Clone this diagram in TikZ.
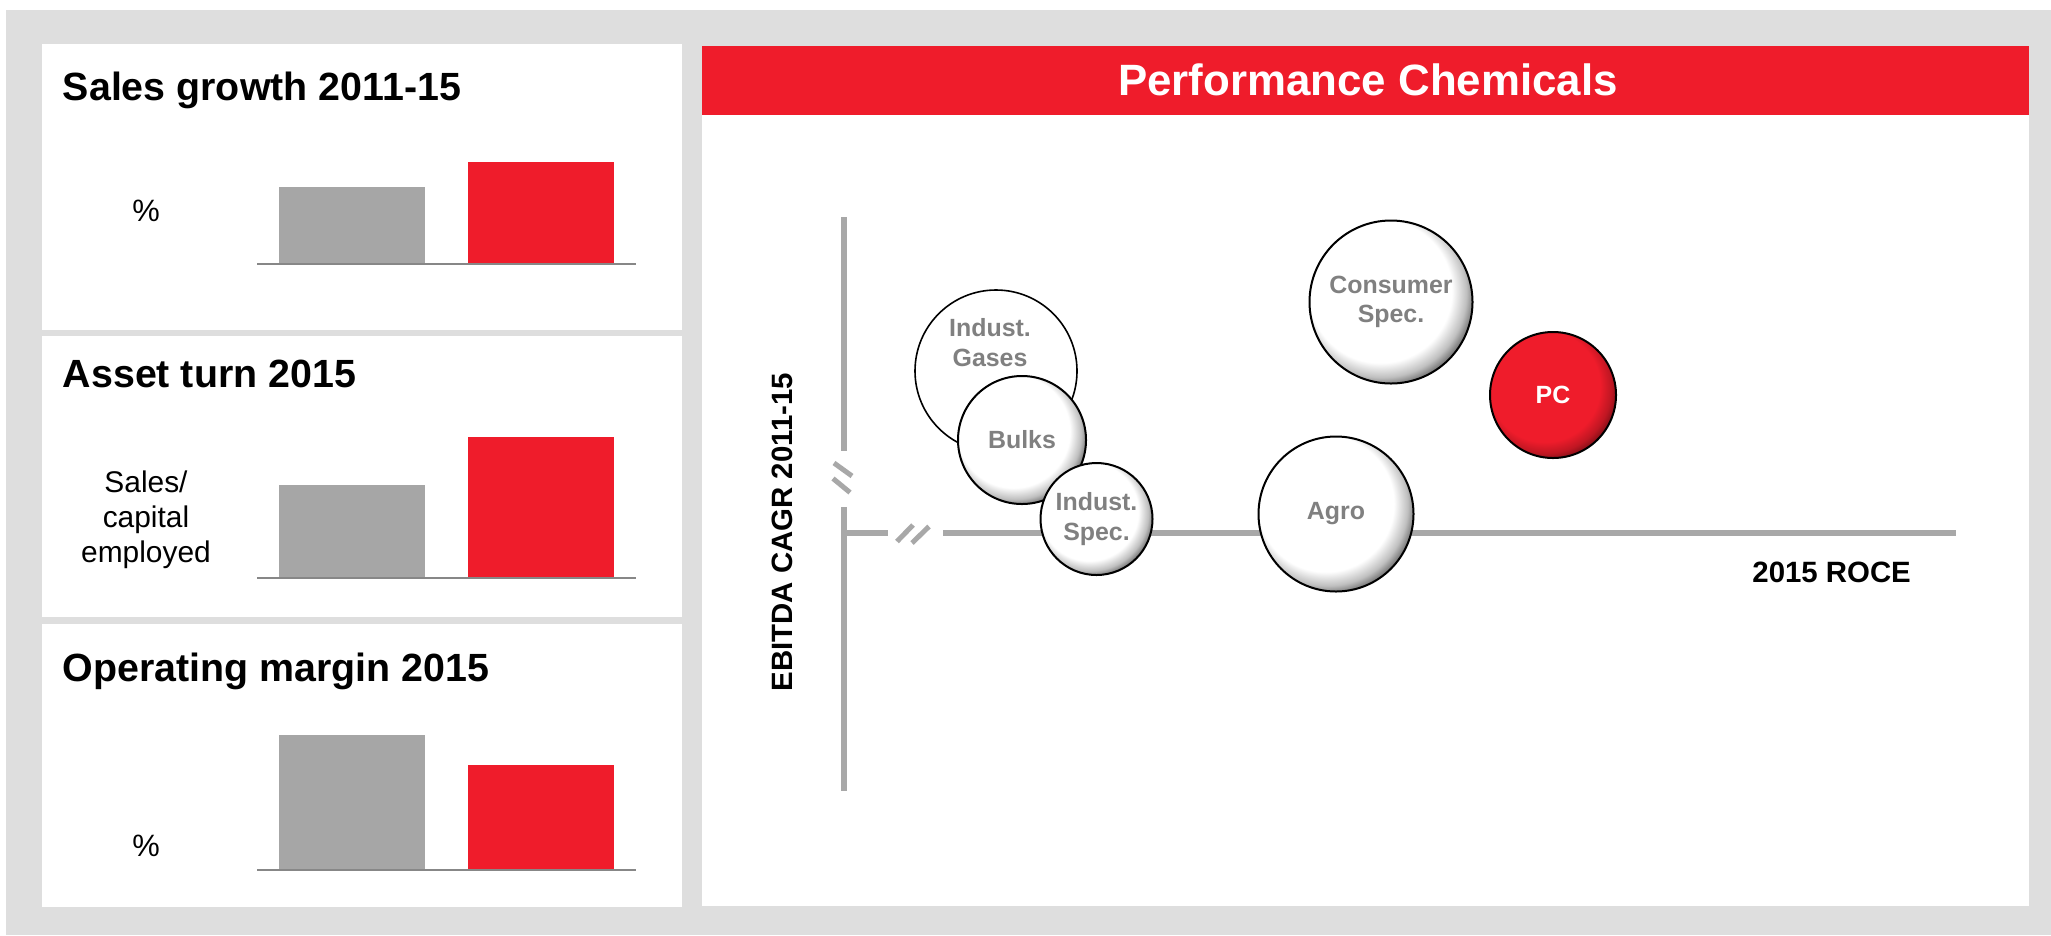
\documentclass[tikz,border=0pt]{standalone}
\usepackage{fontspec}
\setmainfont{Liberation Sans}
\definecolor{bg}{HTML}{DEDEDE}
\definecolor{pcred}{HTML}{EF1C2B}
\definecolor{bargray}{HTML}{A6A6A6}
\definecolor{basegray}{HTML}{878787}
\definecolor{axisgray}{HTML}{A8A8A8}
\definecolor{bubtext}{HTML}{808080}
\pgfdeclareradialshading{bubble}{\pgfpoint{-6bp}{6bp}}{color(0bp)=(white); color(22bp)=(white); color(26bp)=(black!25); color(28bp)=(black!50); color(50bp)=(black!50)}
\pgfdeclareradialshading{pcball}{\pgfpoint{-6bp}{6bp}}{color(0bp)=(pcred); color(22bp)=(pcred); color(26bp)=(pcred!80!black); color(28bp)=(pcred!60!black); color(50bp)=(pcred!60!black)}
\begin{document}
\begin{tikzpicture}[x=0.5bp,y=-0.5bp,
  paneltitle/.style={font=\fontsize{19.75}{22}\selectfont\bfseries, anchor=base west, inner sep=0pt},
  unitlab/.style={font=\fontsize{15}{17.75}\selectfont, align=center, inner sep=0pt},
  pct/.style={font=\fontsize{15.5}{18}\selectfont, anchor=base, inner sep=0pt},
  header/.style={font=\fontsize{22}{26}\selectfont\bfseries, text=white, inner sep=0pt},
  axlab/.style={font=\fontsize{14.75}{17}\selectfont\bfseries, inner sep=0pt},
  graybar/.style={fill=bargray},
  redbar/.style={fill=pcred},
  baseln/.style={draw=basegray, line width=1bp},
  axisln/.style={draw=axisgray, line width=3.25bp},
  breakmark/.style={draw=axisgray, line width=2.5bp},
  bub/.style={circle, draw=black, line width=1bp, shading=bubble, inner sep=0pt,
    font=\fontsize{12.5}{14.75}\selectfont\bfseries, text=bubtext, align=center},
  flatbub/.style={circle, draw=black, line width=0.8bp, fill=white, inner sep=0pt},
  bubtxt/.style={font=\fontsize{12.5}{14.75}\selectfont\bfseries, text=bubtext, align=center, inner sep=0pt}
]
\useasboundingbox (0,0) rectangle (2051,935);
\fill[white] (0,0) rectangle (2051,935);
\fill[bg] (6,10) rectangle (2051,935);
% left panels
\fill[white] (42,44) rectangle (682,330);
\fill[white] (42,336) rectangle (682,617);
\fill[white] (42,624) rectangle (682,907);
% right panel
\fill[white] (702,46) rectangle (2029,906);
\fill[pcred] (702,46) rectangle (2029,115);
\node[header] (hdr) at (1368,80) {Performance Chemicals};

% panel 1
\node[paneltitle] (t1) at (62.5,100) {Sales growth 2011-15};
\node[pct] (u1) at (146,221) {\%};
\fill[graybar] (279,187) rectangle (425,263);
\fill[redbar] (468,162) rectangle (614,263);
\coordinate (b1a) at (257,263.5); \coordinate (b1b) at (636,263.5);
\draw[baseln] (b1a) -- (b1b);

% panel 2
\node[paneltitle] (t2) at (62.5,387) {Asset turn 2015};
\node[unitlab, anchor=north] (u2) at (146,470) {Sales/\\capital\\employed};
\fill[graybar] (279,485) rectangle (425,577);
\fill[redbar] (468,437) rectangle (614,577);
\coordinate (b2a) at (257,577.5); \coordinate (b2b) at (636,577.5);
\draw[baseln] (b2a) -- (b2b);

% panel 3
\node[paneltitle] (t3) at (62.5,681) {Operating margin 2015};
\node[pct] (u3) at (146,856) {\%};
\fill[graybar] (279,735) rectangle (425,869);
\fill[redbar] (468,765) rectangle (614,869);
\coordinate (b3a) at (257,869.5); \coordinate (b3b) at (636,869.5);
\draw[baseln] (b3a) -- (b3b);

% axes
\coordinate (vtop) at (844,217); \coordinate (vbrk1) at (844,451);
\coordinate (vbrk2) at (844,507); \coordinate (vbot) at (844,791);
\coordinate (hstart) at (842.4,533); \coordinate (hbrk1) at (888,533);
\coordinate (hbrk2) at (943,533); \coordinate (hend) at (1956,533);
\draw[axisln] (vtop) -- (vbrk1);
\draw[axisln] (vbrk2) -- (vbot);
\draw[axisln] (hstart) -- (hbrk1);
\draw[axisln] (hbrk2) -- (hend);
\coordinate (vm1a) at (834,463); \coordinate (vm1b) at (852,476);
\coordinate (vm2a) at (833,478.5); \coordinate (vm2b) at (850,492.5);
\draw[breakmark] (vm1a) -- (vm1b);
\draw[breakmark] (vm2a) -- (vm2b);
\coordinate (hm1a) at (897,541.5); \coordinate (hm1b) at (913,525);
\coordinate (hm2a) at (912,543); \coordinate (hm2b) at (929,526.5);
\draw[breakmark] (hm1a) -- (hm1b);
\draw[breakmark] (hm2a) -- (hm2b);

\node[axlab, rotate=90, anchor=base] (ylab) at (792,532) {EBITDA CAGR 2011-15};
\node[axlab, anchor=base west] (xlab) at (1752,582) {2015 ROCE};

% bubbles
\node[flatbub, minimum size=81bp] (gases) at (996,371) {};
\node[bubtxt] (gasestxt) at (990,342.5) {Indust.\\Gases};
\node[bub, minimum size=64bp] (bulks) at (1022,440) {Bulks};
\node[bub, minimum size=56bp] (spec) at (1096.5,519) {Indust.\\Spec.};
\node[bub, minimum size=77.5bp] (agro) at (1336,514) {Agro};
\node[bub, minimum size=81.5bp] (cons) at (1391,302) {Consumer\\Spec.};
\node[bub, shading=pcball, text=white, minimum size=63bp] (pc) at (1553,395) {PC};
\end{tikzpicture}
\end{document}
